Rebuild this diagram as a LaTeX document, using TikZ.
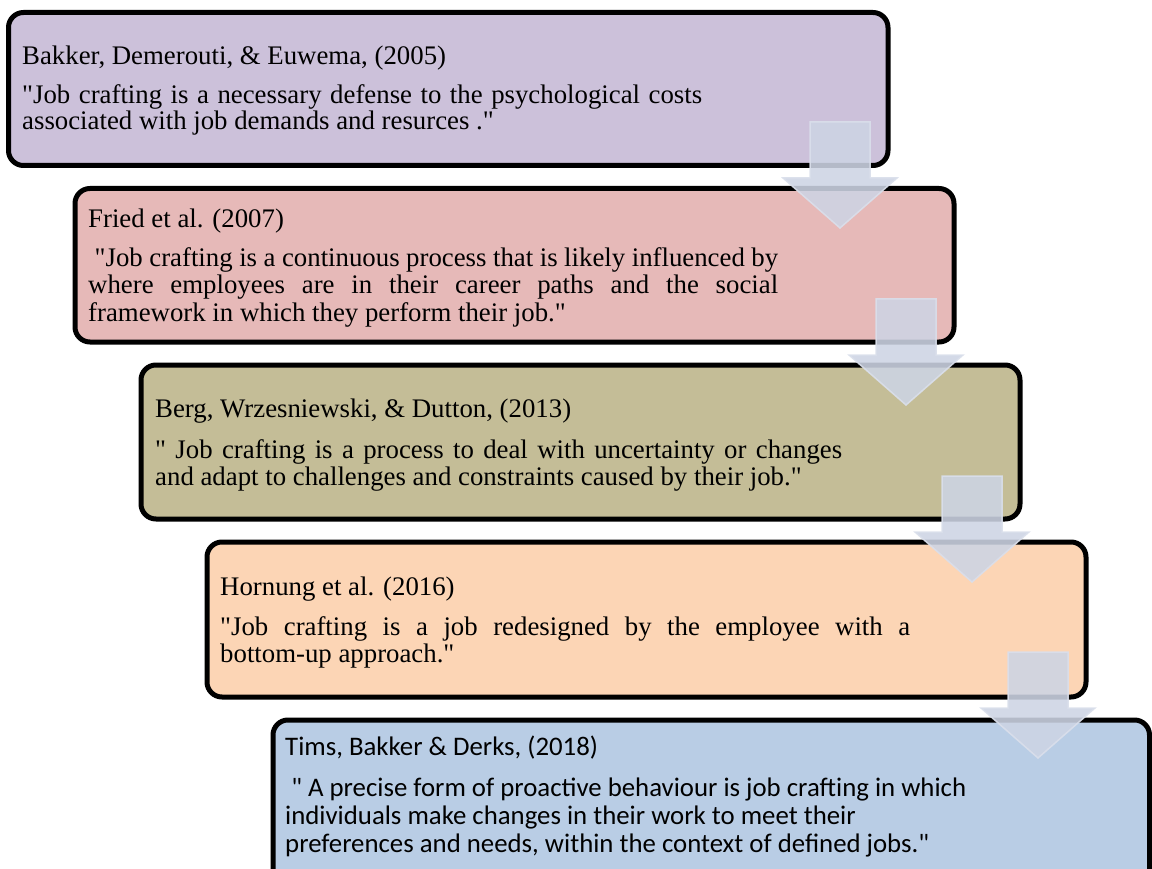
\documentclass[tikz,border=0pt]{standalone}
\usepackage{fontspec}
\setmainfont{Liberation Serif}
\newfontfamily\calibrifont{Carlito}
\definecolor{cone}{RGB}{204,193,218}
\definecolor{ctwo}{RGB}{230,185,184}
\definecolor{cthree}{RGB}{196,189,151}
\definecolor{cfour}{RGB}{252,213,181}
\definecolor{cfive}{RGB}{185,205,229}
\definecolor{arrowfill}{RGB}{205,212,228}
\definecolor{arrowline}{RGB}{218,223,235}
\newcommand{\serifsize}{\fontsize{26.8}{30}\selectfont}
\newcommand{\sanssize}{\calibrifont\fontsize{26.8}{30}\selectfont}
\newcommand{\qq}{\textquotedbl{}}
\tikzset{
  quotebox/.style={draw=black, line width=5pt, rounded corners=15pt},
  stxt/.style={anchor=base west, inner sep=0pt, font=\serifsize},
  ctxt/.style={anchor=base west, inner sep=0pt, font=\sanssize},
  blockarrow/.style={fill=arrowfill, fill opacity=0.88, draw=arrowline, draw opacity=0.9, line width=1.5pt, line join=miter}
}
\newcommand{\blockarr}[2]{%
  \path[blockarrow] (#1-30,#2) -- (#1+30,#2) -- (#1+30,#2+56) -- (#1+57,#2+56)
    -- (#1,#2+106) -- (#1-57,#2+56) -- (#1-30,#2+56) -- cycle;}
\begin{document}
\begin{tikzpicture}[x=1pt,y=-1pt]
\useasboundingbox (0,0) rectangle (1152,869);
\clip (0,0) rectangle (1152,869);
% boxes
\draw[quotebox, fill=cone]   (8.5,12.5) rectangle (888,165.5);
\draw[quotebox, fill=ctwo]   (75,188.5) rectangle (954,342);
\draw[quotebox, fill=cthree] (141,365) rectangle (1020,519);
\draw[quotebox, fill=cfour]  (207,542) rectangle (1086,697);
\draw[quotebox, fill=cfive]  (273,720) rectangle (1149.5,885);
% box 1
\node[stxt] (t1a) at (22,65) {Bakker, Demerouti, \& Euwema, (2005)};
\node[stxt] (t1b) at (22,104) {\makebox[680pt][s]{\qq Job crafting is a necessary defense to the psychological costs}};
\node[stxt] (t1c) at (22,130) {associated with job demands and resurces .\qq};
% box 2
\node[stxt] (t2a) at (88,228) {Fried et al. (2007)};
\node[stxt] (t2b) at (88,267) {\makebox[690pt][s]{\ \qq Job crafting is a continuous process that is likely influenced by}};
\node[stxt] (t2c) at (88,294) {\makebox[690pt][s]{where employees are in their career paths and the social}};
\node[stxt] (t2d) at (88,321) {framework in which they perform their job.\qq};
% box 3
\node[stxt] (t3a) at (155,417) {Berg, Wrzesniewski, \& Dutton, (2013)};
\node[stxt] (t3b) at (155,458) {\makebox[687pt][s]{\qq{} Job crafting is a process to deal with uncertainty or changes}};
\node[stxt] (t3c) at (155,485) {and adapt to challenges and constraints caused by their job.\qq};
% box 4
\node[stxt] (t4a) at (220,595) {Hornung et al. (2016)};
\node[stxt] (t4b) at (220,635) {\makebox[690pt][s]{\qq Job crafting is a job redesigned by the employee with a}};
\node[stxt] (t4c) at (220,662) {bottom-up approach.\qq};
% box 5
\node[ctxt] (t5a) at (285,755) {Tims, Bakker \& Derks, (2018)};
\node[ctxt] (t5b) at (285,796) {\ " A precise form of proactive behaviour is job crafting in which};
\node[ctxt] (t5c) at (285,824) {individuals make changes in their work to meet their};
\node[ctxt] (t5d) at (285,852) {preferences and needs, within the context of defined jobs."};
% block arrows
\blockarr{840}{122}
\blockarr{906}{299}
\blockarr{972}{476}
\blockarr{1038}{652}
\end{tikzpicture}
\end{document}
